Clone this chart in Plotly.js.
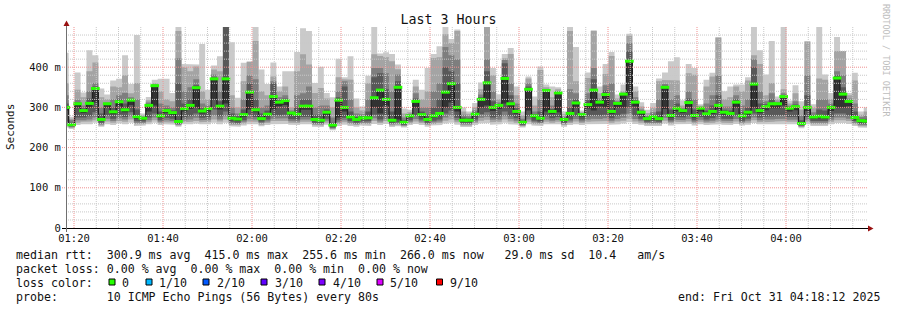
<!DOCTYPE html>
<html>
<head>
<meta charset="utf-8">
<script src="https://cdn.plot.ly/plotly-3.0.1.min.js"></script>
<style>html,body{margin:0;padding:0;background:#fff;}#chart{width:897px;height:310px;}</style>
</head>
<body>
<div id="chart"></div>
<script>
// ---- DATA, one value per 80 s step, first step starts 01:17:28 ----
const stepSeconds = 80;
const firstStep = '2025-10-31T01:17:28Z';
const windowStart = '2025-10-31 01:18:12';
const windowEnd = '2025-10-31 04:18:12';

// median rtt (ms) = 6th of 10 sorted pings
const med = [300,257,309,292,310,347,270,309,289,314,
294,318,277,273,305,354,279,292,287,265,
297,305,349,291,297,371,303,371,273,271,
282,338,294,272,283,327,313,317,286,283,
303,303,270,268,288,256,318,300,276,270,
274,274,324,343,320,268,350,263,279,315,
282,270,279,285,338,359,300,268,268,283,
320,361,300,305,372,309,290,263,345,279,
273,342,290,336,270,285,311,282,307,343,
313,332,290,310,333,415,313,288,272,277,
272,350,280,298,292,312,280,298,284,290,
305,288,285,313,279,288,358,292,302,309,
309,327,298,302,260,300,276,278,276,300,
373,333,315,275,267,266];
// sorted pings 10 (max) .. 7
const p10 = [436,277,387,337,442,430,347,332,367,371,
430,358,480,285,326,369,371,371,336,500,
408,408,407,458,344,404,427,505,462,324,
411,415,500,394,358,412,352,390,390,438,
497,490,361,401,336,325,421,375,427,322,
302,379,500,434,437,433,407,297,294,369,
344,398,433,452,500,470,494,300,290,311,
362,500,398,333,433,448,352,290,377,327,
402,357,352,350,290,500,450,292,387,492,
352,408,438,332,357,483,352,313,294,311,
372,387,415,425,318,408,398,308,369,386,
475,340,352,357,357,375,500,442,382,465,
327,500,317,355,315,465,308,500,382,336,
475,440,336,386,290,300];
const p9 = [360,272,344,325,390,412,325,320,352,350,
380,335,361,280,318,360,340,320,315,490,
400,390,402,340,320,394,390,505,330,300,
365,413,465,340,330,377,340,352,300,390,
432,407,336,348,322,300,375,370,369,300,
292,360,432,428,425,415,395,285,288,352,
320,340,423,425,482,460,490,290,284,300,
345,500,380,320,422,433,330,280,372,305,
393,350,325,345,283,490,365,288,373,490,
335,383,428,322,340,478,340,302,286,298,
365,368,368,367,305,385,381,304,352,377,
473,320,325,352,340,367,430,408,330,361,
320,345,310,335,295,463,298,372,369,320,
440,440,330,367,282,290];
const p8 = [330,268,319,305,340,361,300,312,320,330,
336,325,320,277,312,357,310,305,300,422,
340,350,370,310,305,382,340,505,300,285,
320,380,370,300,305,365,325,330,292,330,
335,352,300,305,305,275,340,365,320,285,
283,320,398,398,385,340,382,275,284,335,
300,300,340,360,450,430,420,282,278,292,
332,420,340,312,418,360,310,272,360,290,
320,346,305,340,277,345,335,285,335,398,
322,355,360,315,336,460,325,295,279,288,
320,358,320,330,298,340,320,301,310,330,
380,302,302,330,305,320,420,340,315,335,
314,335,304,315,280,380,288,320,320,310,
390,380,322,310,276,280];
const p7 = [310,262,312,298,322,352,285,310,300,320,
310,320,295,275,308,355,290,297,292,360,
310,320,355,298,300,375,315,505,285,278,
295,360,320,285,292,360,318,322,288,300,
320,320,282,282,295,262,325,352,290,276,
278,290,375,385,345,290,365,268,281,322,
290,282,300,320,400,390,360,275,273,287,
325,390,315,308,410,330,298,267,352,283,
290,344,296,338,273,300,320,283,318,370,
316,342,320,312,334,440,318,291,275,282,
290,354,295,310,295,322,295,299,292,305,
330,294,292,320,288,300,400,310,308,320,
311,330,300,307,268,330,281,295,292,304,
380,350,318,290,271,272];
// sorted pings 5 .. 1 (min)
const p5 = [292,254,300,286,300,312,266,300,283,304,
288,306,272,269,290,305,274,286,281,262,
290,296,300,285,290,320,295,310,268,266,
276,295,288,268,278,295,303,306,280,278,
294,294,266,264,282,252,275,290,271,266,
270,270,300,285,305,264,270,260,274,300,
277,266,274,279,300,312,290,264,264,278,
300,305,291,296,310,298,284,260,292,274,
268,290,284,288,266,279,300,277,297,292,
302,300,284,299,300,330,302,282,268,272,
268,296,275,290,286,301,275,290,278,284,
295,282,279,300,274,282,300,286,293,298,
298,305,290,293,256,291,271,273,271,291,
300,300,303,270,263,262];
const p4 = [265,253,275,275,278,288,262,280,272,282,
276,288,266,265,275,285,268,274,272,259,
275,278,285,274,276,295,278,290,264,262,
268,282,276,264,270,280,280,282,271,270,
276,277,262,261,272,250,268,274,266,262,
265,266,282,270,280,261,263,257,268,279,
270,262,267,270,285,292,274,261,261,270,
283,288,275,278,290,278,273,257,278,267,
264,278,273,276,262,270,278,270,278,280,
279,282,273,279,284,300,279,272,264,266,
264,283,268,276,275,279,268,276,270,273,
278,272,271,279,267,272,285,275,277,278,
279,280,276,277,255,276,266,266,266,276,
285,285,280,266,260,259];
const p3 = [262,251,268,268,270,275,258,272,266,273,
270,278,262,262,268,275,264,268,266,257,
268,270,274,268,269,280,270,278,260,259,
264,272,270,261,265,272,272,273,266,265,
270,270,259,258,267,248,263,268,262,259,
262,262,273,265,272,258,260,255,264,271,
265,259,263,265,275,280,268,258,258,265,
274,277,269,270,278,271,267,255,270,263,
261,270,267,269,259,265,271,265,270,272,
271,273,267,271,274,284,271,267,261,262,
261,274,264,269,268,271,264,269,265,267,
270,267,266,271,263,267,275,268,270,270,
271,272,269,270,253,269,262,262,262,269,
275,275,272,262,257,256];
const p2 = [258,249,262,264,265,268,255,265,262,266,
264,270,258,259,263,268,260,263,262,255,
263,264,266,263,264,270,265,270,257,256,
260,265,264,257,261,266,266,266,262,261,
264,264,256,255,262,246,259,263,258,256,
259,258,266,261,266,255,257,253,260,265,
261,256,259,261,267,270,263,255,255,261,
267,269,263,264,270,265,262,253,264,259,
258,264,262,264,256,261,265,261,264,265,
265,266,262,265,267,272,265,262,258,259,
258,267,260,264,263,265,260,264,261,262,
264,262,261,265,259,262,268,263,264,264,
265,266,264,264,251,264,258,259,258,264,
268,268,266,258,254,253];
const p1 = [250,246,256,258,258,262,252,258,256,260,
258,262,254,255,258,262,256,258,257,252,
258,258,260,258,258,262,258,262,253,252,
255,258,258,253,256,258,259,259,257,256,
258,258,252,251,257,243,254,257,254,252,
255,254,259,256,259,251,253,250,256,259,
256,252,255,256,260,262,257,251,251,256,
260,261,257,258,262,258,257,250,258,255,
254,258,257,258,252,256,258,256,258,259,
259,259,257,258,260,263,259,257,254,255,
254,260,255,258,258,259,255,258,256,257,
258,257,256,259,255,257,261,258,258,258,
258,259,258,258,248,258,254,255,254,258,
261,261,259,254,250,249];

const yTickVals = [0,100,200,300,400];
const yTickText = ['0','100 m','200 m','300 m','400 m'];
const smokeColors = ['#cacaca','#a4a4a4','#7e7e7e','#585858','#323232'];
const lossLabels = ['0','1/10','2/10','3/10','4/10','5/10','9/10'];
const lossColors = ['#26ff00','#00b8ff','#0059ff','#5e00ff','#7e00ff','#dd00ff','#ff0000'];
const statLines = [
  'median rtt:  300.9 ms avg  415.0 ms max  255.6 ms min  266.0 ms now   29.0 ms sd  10.4   am/s',
  'packet loss: 0.00 % avg  0.00 % max  0.00 % min  0.00 % now',
  'loss color:',
  'probe:       10 ICMP Echo Pings (56 Bytes) every 80s'
];
const endText = 'end: Fri Oct 31 04:18:12 2025';

// ---- LAYOUT GEOMETRY ----
const W = 897, H = 310, ML = 66, MR = 30, MT = 27, MB = 82;
const PW = W - ML - MR, PH = H - MT - MB;
const px = x => (x - ML) / PW;
const py = y => (MT + PH - y) / PH;
const nb = s => s.replace(/ /g, '\u00a0');
const MONO = 'DejaVu Sans Mono';

const t0 = Date.parse(firstStep);
const stepMs = stepSeconds * 1000;
const tStart = med.map((_, i) => t0 + i * stepMs);
const tMid = tStart.map(v => v + stepMs / 2);

// each smoke band = one stepped polygon between two sorted-ping series
function bandTrace(lo, hi, color) {
  const xs = [], ys = [];
  for (let i = 0; i < hi.length; i++) {
    xs.push(tStart[i], tStart[i] + stepMs); ys.push(hi[i], hi[i]);
  }
  for (let i = lo.length - 1; i >= 0; i--) {
    xs.push(tStart[i] + stepMs, tStart[i]); ys.push(lo[i], lo[i]);
  }
  return {type: 'scatter', mode: 'lines', x: xs, y: ys, fill: 'toself', fillcolor: color,
    line: {width: 0, color: color}, hoverinfo: 'skip', showlegend: false};
}

const traces = [];
const bands = [[p1, p10], [p2, p9], [p3, p8], [p4, p7], [p5, med]];
bands.forEach(([lo, hi], b) => traces.push(bandTrace(lo, hi, smokeColors[b])));
traces.push({
  type: 'scatter', mode: 'lines',
  x: tStart.concat([tStart[tStart.length - 1] + stepMs]),
  y: med.concat([med[med.length - 1]]),
  line: {shape: 'hv', color: '#202020', width: 1.3},
  hoverinfo: 'skip', showlegend: false
});
traces.push({
  type: 'scatter', mode: 'markers', x: tMid, y: med,
  marker: {symbol: 'line-ew', size: 6.2, color: lossColors[0], line: {color: lossColors[0], width: 3}},
  hoverinfo: 'skip', showlegend: false
});

// grid (rrdtool paints it over the graph)
const shapes = [];
const minor = '#c8c8c8', major = '#f09090';
const gStart = Date.parse('2025-10-31T01:20:00Z');
const gEnd = Date.parse('2025-10-31T04:18:12Z');
for (let m = 0; gStart + m * 60000 <= gEnd; m += 5) {
  const tt = gStart + m * 60000;
  shapes.push({type: 'line', layer: 'above', xref: 'x', yref: 'paper', x0: tt, x1: tt, y0: 0, y1: 1,
    line: {color: m % 20 === 0 ? major : minor, width: 1, dash: '1px,1px'}});
}
for (let v = 20; v < 500; v += 20) {
  const isMajor = v % 100 === 0;
  shapes.push({type: 'line', layer: 'above', xref: 'paper', yref: 'y',
    x0: isMajor ? px(62) : 0, x1: 1, y0: v, y1: v,
    line: {color: isMajor ? major : minor, width: 1, dash: '1px,1px'}});
}
// axis lines and arrows
shapes.push({type: 'line', layer: 'above', xref: 'paper', yref: 'paper', x0: px(62), x1: px(869), y0: py(228.5), y1: py(228.5), line: {color: '#000', width: 1}});
shapes.push({type: 'line', layer: 'above', xref: 'paper', yref: 'paper', x0: px(66.5), x1: px(66.5), y0: py(232), y1: py(25), line: {color: '#707070', width: 1}});
shapes.push({type: 'path', layer: 'above', xref: 'paper', yref: 'paper',
  path: `M${px(868)},${py(225.5)} L${px(873.5)},${py(228.5)} L${px(868)},${py(231.5)} Z`,
  fillcolor: '#991111', line: {width: 0}});
shapes.push({type: 'path', layer: 'above', xref: 'paper', yref: 'paper',
  path: `M${px(63.5)},${py(26)} L${px(66.5)},${py(20.5)} L${px(69.5)},${py(26)} Z`,
  fillcolor: '#991111', line: {width: 0}});

// loss colour boxes
const boxX = [109, 146, 203, 261, 319, 377, 436.5];
const labX = [122, 158.5, 217, 274.5, 332.5, 390, 450];
boxX.forEach((bx, i) => {
  shapes.push({type: 'rect', layer: 'above', xref: 'paper', yref: 'paper',
    x0: px(bx), x1: px(bx + 6), y0: py(285), y1: py(279),
    fillcolor: lossColors[i], line: {color: '#000', width: 1}});
});

const annotations = [];
const lineY = [255, 268.5, 282.5, 296.5];
const txtFont = {family: MONO, size: 11.6, color: '#111'};
statLines.forEach((s, i) => {
  annotations.push({xref: 'paper', yref: 'paper', x: px(16), y: py(lineY[i]), xanchor: 'left', yanchor: 'middle',
    text: nb(s), showarrow: false, font: txtFont, borderpad: 0, borderwidth: 0});
});
lossLabels.forEach((s, i) => {
  annotations.push({xref: 'paper', yref: 'paper', x: px(labX[i]), y: py(lineY[2]), xanchor: 'left', yanchor: 'middle',
    text: nb(s), showarrow: false, font: txtFont, borderpad: 0, borderwidth: 0});
});
annotations.push({xref: 'paper', yref: 'paper', x: px(880), y: py(lineY[3]), xanchor: 'right', yanchor: 'middle',
  text: nb(endText), showarrow: false, font: txtFont, borderpad: 0, borderwidth: 0});
annotations.push({xref: 'paper', yref: 'paper', x: px(11), y: py(127), xanchor: 'center', yanchor: 'middle',
  text: 'Seconds', textangle: -90, showarrow: false, font: {family: MONO, size: 11, color: '#111'}, borderpad: 0, borderwidth: 0});
annotations.push({xref: 'paper', yref: 'paper', x: px(886), y: py(60), xanchor: 'center', yanchor: 'middle',
  text: nb('RRDTOOL / TOBI OETIKER'), textangle: 90, showarrow: false, font: {family: MONO, size: 8.5, color: '#bdbdbd'}, borderpad: 0, borderwidth: 0});

const layout = {
  width: W, height: H,
  margin: {l: ML, r: MR, t: MT, b: MB, pad: 0},
  paper_bgcolor: '#fff', plot_bgcolor: '#fff',
  showlegend: false,
  title: {text: 'Last 3 Hours', font: {family: MONO, size: 13.3, color: '#111'},
    x: 0.5, xref: 'container', xanchor: 'center', y: 1 - 19.5 / H, yref: 'container', yanchor: 'middle'},
  xaxis: {type: 'date', range: [windowStart, windowEnd], tickmode: 'linear',
    tick0: '2025-10-31 01:20:00', dtick: 1200000, tickformat: '%H:%M',
    showgrid: false, zeroline: false, showline: false, ticks: '', ticklabelstandoff: 2,
    tickfont: {family: MONO, size: 10.5, color: '#111'}, fixedrange: true},
  yaxis: {range: [0, 500], tickmode: 'array', tickvals: yTickVals, ticktext: yTickText.map(nb),
    showgrid: false, zeroline: false, showline: false, ticks: 'outside', ticklen: 2, tickcolor: 'rgba(0,0,0,0)',
    tickfont: {family: MONO, size: 10.5, color: '#111'}, fixedrange: true},
  shapes: shapes,
  annotations: annotations
};

Plotly.newPlot('chart', traces, layout, {staticPlot: true, displayModeBar: false});
</script>
</body>
</html>
